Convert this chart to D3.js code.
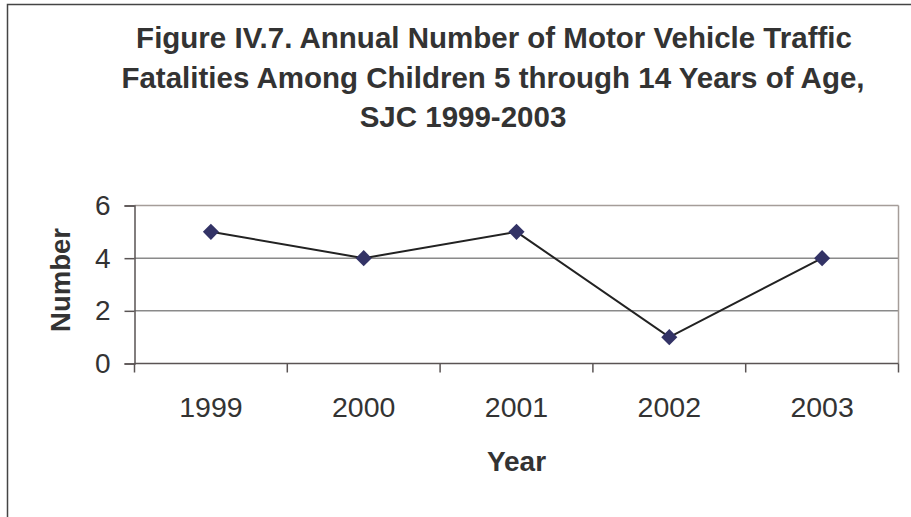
<!DOCTYPE html>
<html>
<head>
<meta charset="utf-8">
<script src="https://cdn.jsdelivr.net/npm/d3@7"></script>
<style>
  body { margin: 0; background: #fff; }
  svg text { font-family: "Liberation Sans", Arial, sans-serif; fill: #333; }
</style>
</head>
<body>
<div id="chart"></div>
<script>
// chart data
const years = ["1999", "2000", "2001", "2002", "2003"]
const fatalities = [5, 4, 5, 1, 4]
const yTicks = [0, 2, 4, 6]
const titleLines = [
    "Figure IV.7. Annual Number of Motor Vehicle Traffic",
    "Fatalities Among Children 5 through 14 Years of Age,",
    "SJC 1999-2003"
]

var width = 911
var height = 517
var plot = { left: 134.5, right: 898.5, top: 205.5, bottom: 363.5 }
// last title line sits a bit left of the others in the original
var titleX = [494, 493, 463]

const svg = d3.select("#chart")
    .append("svg")
    .attr("width", width)
    .attr("height", height)

// outer frame, runs off the right and bottom edge like the original crop
svg.append("rect")
    .attr("x", 7.5)
    .attr("y", 4.5)
    .attr("width", 1000)
    .attr("height", 1000)
    .attr("fill", "none")
    .attr("stroke", "#444")
    .attr("stroke-width", 1.5)

svg.append("g")
    .selectAll("text")
    .data(titleLines)
    .enter()
    .append("text")
    .attr("x", (d, i) => titleX[i])
    .attr("y", (d, i) => 48 + i * 39.5)
    .attr("text-anchor", "middle")
    .style("font-size", "29.5px")
    .style("font-weight", "bold")
    .text(d => d)

var xScale = d3.scaleBand()
    .domain(years)
    .range([plot.left, plot.right])

var yScale = d3.scaleLinear()
    .domain([0, 6])
    .range([plot.bottom, plot.top])

// grid lines
svg.append("g")
    .selectAll("line")
    .data(yTicks.filter(t => t > 0))
    .enter()
    .append("line")
    .attr("x1", plot.left)
    .attr("x2", plot.right)
    .attr("y1", d => yScale(d))
    .attr("y2", d => yScale(d))
    .attr("stroke", d => d === 6 ? "#a59d99" : "#8a8a8a")
    .attr("stroke-width", 1.5)

// right border of plot area
svg.append("line")
    .attr("x1", plot.right)
    .attr("x2", plot.right)
    .attr("y1", plot.top)
    .attr("y2", plot.bottom)
    .attr("stroke", "#a59d99")
    .attr("stroke-width", 1.5)

// y axis
svg.append("g")
    .attr("transform", "translate(" + plot.left + ",0)")
    .call(d3.axisLeft(yScale).tickValues(yTicks).tickSize(10).tickPadding(14).tickFormat(d3.format("d")))
    .call(g => g.select(".domain").attr("stroke", "#5a5454").attr("stroke-width", 1.5))
    .call(g => g.selectAll(".tick line").attr("stroke", "#5a5454").attr("stroke-width", 1.5))
    .call(g => g.selectAll(".tick text")
        .style("font-size", "28px")
        .style("font-family", "Liberation Sans, Arial, sans-serif")
        .attr("fill", "#333"))

// x axis: labels in the band centers, tick marks at band edges
var edges = years.map(d => xScale(d)).concat([xScale(years[years.length - 1]) + xScale.bandwidth()])

svg.append("line")
    .attr("x1", plot.left)
    .attr("x2", plot.right)
    .attr("y1", plot.bottom)
    .attr("y2", plot.bottom)
    .attr("stroke", "#5a5454")
    .attr("stroke-width", 1.5)

svg.append("g")
    .selectAll("line")
    .data(edges)
    .enter()
    .append("line")
    .attr("x1", d => d)
    .attr("x2", d => d)
    .attr("y1", plot.bottom)
    .attr("y2", plot.bottom + 9)
    .attr("stroke", "#5a5454")
    .attr("stroke-width", 1.5)

svg.append("g")
    .selectAll("text")
    .data(years)
    .enter()
    .append("text")
    .attr("x", d => xScale(d) + xScale.bandwidth() / 2)
    .attr("y", 417)
    .attr("text-anchor", "middle")
    .style("font-size", "28.5px")
    .text(d => d)

// axis titles
svg.append("text")
    .attr("transform", "translate(70,280) rotate(-90)")
    .attr("text-anchor", "middle")
    .style("font-size", "27.5px")
    .style("font-weight", "bold")
    .text("Number")

svg.append("text")
    .attr("x", (plot.left + plot.right) / 2)
    .attr("y", 471)
    .attr("text-anchor", "middle")
    .style("font-size", "28px")
    .style("font-weight", "bold")
    .text("Year")

// series line and markers
var pts = years.map((y, i) => [xScale(y) + xScale.bandwidth() / 2, yScale(fatalities[i])])

svg.append("path")
    .datum(pts)
    .attr("fill", "none")
    .attr("stroke", "#222")
    .attr("stroke-width", 2)
    .attr("d", d3.line())

svg.append("g")
    .selectAll("path")
    .data(pts)
    .enter()
    .append("path")
    .attr("transform", d => "translate(" + d[0] + "," + d[1] + ")")
    .attr("d", d3.symbol().type(d3.symbolDiamond2).size(165))
    .attr("fill", "#333366")
</script>
</body>
</html>
